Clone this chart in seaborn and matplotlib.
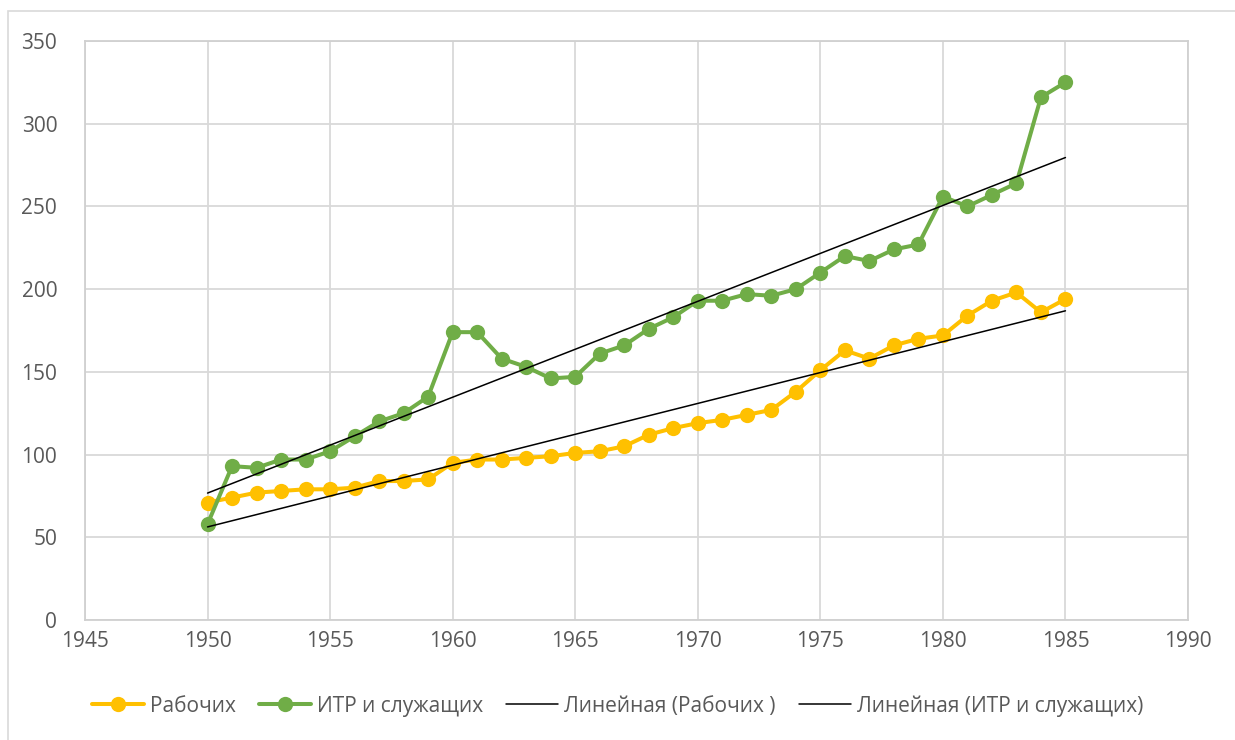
import numpy as np
import pandas as pd
import matplotlib
matplotlib.use("Agg")
import matplotlib.pyplot as plt
from matplotlib.patches import Rectangle
from matplotlib.lines import Line2D
import seaborn as sns

years = list(range(1950, 1986))
workers = [71, 74, 77, 78, 79, 79, 80, 84, 84, 85,
           95, 97, 97, 98, 99, 101, 102, 105, 112, 116,
           119, 121, 124, 127, 138, 151, 163, 158, 166, 170,
           172, 184, 193, 198, 186, 194]
staff = [58, 93, 92, 97, 97, 102, 111, 120, 125, 135,
         174, 174, 158, 153, 146, 147, 161, 166, 176, 183,
         193, 193, 197, 196, 200, 210, 220, 217, 224, 227,
         256, 250, 257, 264, 316, 325]
series_names = ["Рабочих", "ИТР и служащих"]
trend_names = ["Линейная (Рабочих )", "Линейная (ИТР и служащих)"]
x_ticks = list(range(1945, 1991, 5))
y_ticks = list(range(0, 351, 50))

colors = ["#FFC000", "#70AD47"]
text_color = "#595959"

sns.set_theme(style="white")
plt.rcParams['font.family'] = ['Open Sans', 'DejaVu Sans']

fig = plt.figure(figsize=(12.35, 7.40), dpi=100)
ax = fig.add_axes([85/1235, 1 - 620/740, (1188 - 85)/1235, (620 - 41)/740])

df = pd.DataFrame({"year": years, series_names[0]: workers, series_names[1]: staff})

for name, c in zip(series_names, colors):
    sns.lineplot(data=df, x="year", y=name, ax=ax, color=c, linewidth=2.9,
                 marker="o", markersize=11, markeredgewidth=0, zorder=3)

for name in series_names:
    sns.regplot(data=df, x="year", y=name, ax=ax, scatter=False, ci=None,
                truncate=True, line_kws=dict(color="black", linewidth=1.1, zorder=4))

ax.set_xlim(1945, 1990)
ax.set_ylim(0, 350)
ax.set_xticks(x_ticks)
ax.set_yticks(y_ticks)
ax.set_xlabel("")
ax.set_ylabel("")
ax.grid(True, color="#D9D9D9", linewidth=1.3)
ax.set_axisbelow(True)
for s in ax.spines.values():
    s.set_visible(True)
    s.set_color("#D0D0D0")
    s.set_linewidth(1.3)
ax.tick_params(axis="both", length=0, labelsize=15, colors=text_color)
ax.tick_params(axis="x", pad=8)
ax.tick_params(axis="y", pad=20)

handles = [
    Line2D([], [], color=colors[0], linewidth=2.9, marker="o", markersize=11, markeredgewidth=0),
    Line2D([], [], color=colors[1], linewidth=2.9, marker="o", markersize=11, markeredgewidth=0),
    Line2D([], [], color="black", linewidth=1.1),
    Line2D([], [], color="black", linewidth=1.1),
]
labels = series_names + trend_names
fig.legend(handles, labels, loc="center", bbox_to_anchor=(0.5, 1 - 706/740), ncol=4,
           frameon=False, fontsize=15, labelcolor=text_color, handlelength=2.5,
           handletextpad=0.3, columnspacing=1.1)

fig.patches.append(Rectangle((8/1235, -0.1), 1.2, 1 - 11/740 + 0.1, transform=fig.transFigure,
                             fill=False, edgecolor="#D9D9D9", linewidth=1.2))

fig.savefig("out.png", dpi=100)
